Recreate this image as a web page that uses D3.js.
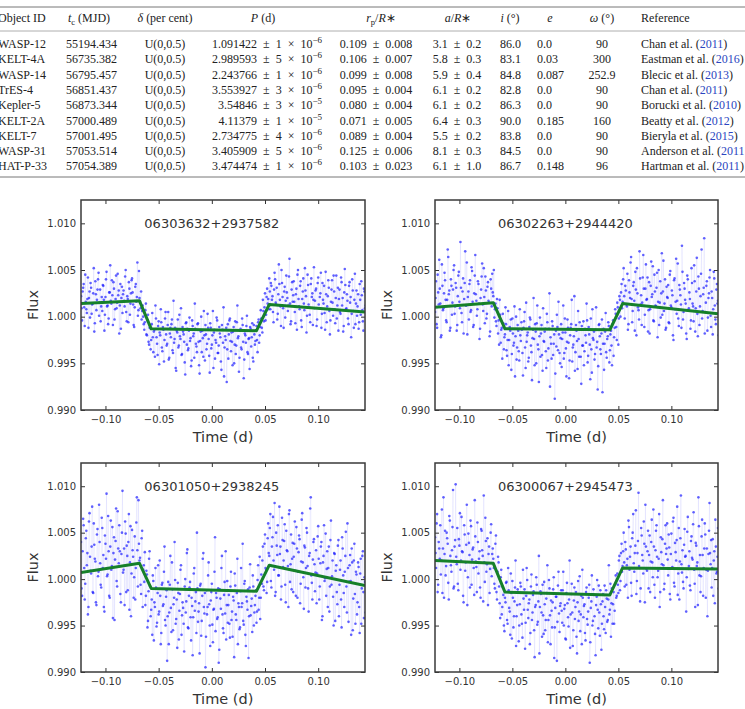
<!DOCTYPE html>
<html>
<head>
<meta charset="utf-8">
<script src="https://cdn.jsdelivr.net/npm/d3@7"></script>
<style>
  body { margin: 0; background: #fff; }
  svg { display: block; }
  .tbl text { font-family: "Liberation Serif", serif; font-size: 12px; fill: #222; }
  .tick text { font-family: "DejaVu Sans", sans-serif; font-size: 10px; fill: #333; }
  .tick line { stroke: #333; }
</style>
</head>
<body>
<div id="viz"></div>
<script>
// ---- table data ----
var objectIds = ["WASP-12", "KELT-4A", "WASP-14", "TrES-4", "Kepler-5", "KELT-2A", "KELT-7", "WASP-31", "HAT-P-33"];
var tcValues = ["55194.434", "56735.382", "56795.457", "56851.437", "56873.344", "57000.489", "57001.495", "57053.514", "57054.389"];
var deltaValues = ["U(0,0.5)", "U(0,0.5)", "U(0,0.5)", "U(0,0.5)", "U(0,0.5)", "U(0,0.5)", "U(0,0.5)", "U(0,0.5)", "U(0,0.5)"];
var periodValues = ["1.091422", "2.989593", "2.243766", "3.553927", "3.54846", "4.11379", "2.734775", "3.405909", "3.474474"];
var periodErrs = ["1", "5", "1", "3", "3", "1", "4", "5", "1"];
var periodExps = ["−6", "−6", "−6", "−6", "−5", "−5", "−6", "−6", "−6"];
var rpValues = ["0.109", "0.106", "0.099", "0.095", "0.080", "0.071", "0.089", "0.125", "0.103"];
var rpErrs = ["0.008", "0.007", "0.008", "0.004", "0.004", "0.005", "0.004", "0.006", "0.023"];
var aValues = ["3.1", "5.8", "5.9", "6.1", "6.1", "6.4", "5.5", "8.1", "6.1"];
var aErrs = ["0.2", "0.3", "0.4", "0.2", "0.2", "0.3", "0.2", "0.3", "1.0"];
var incValues = ["86.0", "83.1", "84.8", "82.8", "86.3", "90.0", "83.8", "84.5", "86.7"];
var eccValues = ["0.0", "0.03", "0.087", "0.0", "0.0", "0.185", "0.0", "0.0", "0.148"];
var omegaValues = ["90", "300", "252.9", "90", "90", "160", "90", "90", "96"];
var refAuthors = ["Chan et al. (", "Eastman et al. (", "Blecic et al. (", "Chan et al. (", "Borucki et al. (", "Beatty et al. (", "Bieryla et al. (", "Anderson et al. (", "Hartman et al. ("];
var refYears = ["2011", "2016", "2013", "2011", "2010", "2012", "2015", "2011", "2011"];
var refClose = [")", ")", ")", ")", ")", ")", ")", "", ")"];

// ---- light curve data ----
var lcTitles = ["06303632+2937582", "06302263+2944420", "06301050+2938245", "06300067+2945473"];
var timeStart = -0.123, cadence = 0.001;   // "a" points start at timeStart, "b" points half a cadence later
var fluxUnit = 1e-4;                       // flux values below are (flux - 1) / 1e-4
var timeTicks = [-0.10, -0.05, 0.00, 0.05, 0.10];
var fluxTicks = [0.990, 0.995, 1.000, 1.005, 1.010];

var flux1a = [
  22,-4,31,10,45,8,19,-12,27,36,3,14,52,-7,24,18,40,1,29,11,
  6,33,-15,21,48,12,-2,26,17,39,-9,30,8,44,15,23,-18,35,20,4,
  28,11,50,-5,19,37,2,25,41,13,-11,32,16,58,7,20,9,-3,12,-8,
  -6,14,-20,2,-30,-9,-25,4,-38,-14,12,-22,-41,-5,-17,8,-33,-11,-48,-2,
  -19,-29,5,-44,-12,-8,-36,17,-24,-55,-15,-3,-31,-21,9,-40,-16,-27,-62,-6,
  -13,-34,-1,-23,-47,-10,-18,14,-29,-38,-7,-52,-26,0,-15,-43,-20,-9,-35,3,
  -24,-60,-12,-30,6,-17,-45,-28,-4,-39,-11,-22,-57,-14,10,-33,-25,-70,-8,-19,
  -2,-37,-27,-16,-50,-5,-31,12,-21,-44,-13,-35,-9,-66,-18,-28,1,-40,-23,-11,
  -32,-7,-48,-19,-26,-10,-38,-3,-20,7,-12,18,-5,25,2,30,19,41,8,33,
  22,-6,47,15,31,3,56,18,-10,36,9,27,-1,44,20,12,62,-8,29,16,
  38,5,24,-14,50,11,33,-4,19,41,7,28,-17,45,13,2,35,21,-9,53,
  17,30,-3,42,9,25,-12,36,14,4,48,-6,22,31,-19,16,39,1,27,-7,
  44,12,-15,29,3,37,20,-10,51,8,24,-2,33,15,-22,40,6,18,-8,28,
  11,-13,35,2,23,-5,30,9
];
var flux1b = [
  9,27,35,-10,16,4,42,20,-1,31,13,25,-16,38,7,29,47,15,-5,21,
  34,18,2,40,11,-8,26,55,14,23,37,-3,19,9,46,28,12,-13,32,24,
  17,43,5,22,-6,30,14,39,26,-9,10,35,21,1,49,16,27,6,0,-14,
  7,-19,-4,-27,-12,-35,-8,-22,-16,-43,-2,-29,-10,-51,-20,-6,-37,-14,-25,5,
  -31,-9,-46,-18,-22,-3,-39,-28,-12,-58,-17,-33,2,-24,-41,-11,-19,-49,-7,-30,
  -36,-15,-26,-53,-4,-21,-44,-13,-32,-8,-27,-61,-16,-38,-23,6,-47,-19,-29,-12,
  -42,-7,-34,-20,-55,-14,-25,-1,-39,-31,-18,-48,-9,-28,-64,-21,-12,-35,-45,-4,
  -26,-17,-52,-11,-30,-40,-6,-23,-59,-15,-33,-2,-27,-46,-20,-10,-38,-24,-56,-13,
  -22,-44,-9,-30,-15,-25,-6,-28,-11,-2,-17,6,10,-4,21,14,8,27,36,18,
  5,29,40,13,-3,24,35,11,50,21,-12,32,17,26,6,43,14,-5,37,23,
  16,-7,30,45,19,8,38,-11,27,14,52,22,1,34,10,-6,41,25,18,9,
  28,-10,36,13,21,47,3,18,33,-14,24,11,39,6,-4,29,15,44,8,20,
  -2,31,19,5,42,12,-16,26,34,9,17,-8,37,21,3,28,-12,46,14,1,
  24,-6,18,38,7,-15,27,12
];
var flux2a = [
  5,38,-12,26,61,14,-20,33,9,47,18,-6,72,24,-15,40,2,29,55,11,
  31,-9,44,16,80,4,27,-18,36,12,58,21,-3,39,7,49,-11,25,66,17,
  8,35,-24,20,43,13,52,-7,28,3,37,15,-16,30,46,22,-1,14,-10,9,
  -4,18,-28,-12,3,-35,-19,-8,-42,6,-25,-15,-57,-2,-31,11,-21,-46,-9,-37,
  8,-26,-14,-63,-5,-33,15,-20,-48,-11,-3,-38,-23,20,-52,-16,-7,-30,-70,-1,
  -18,-41,9,-27,-13,-55,-6,-34,25,-22,-45,-10,-29,-88,-15,2,-36,-19,-50,-8,
  -24,12,-39,-17,-64,-3,-28,-47,-12,18,-33,-21,-58,-9,-26,6,-43,-14,-72,-31,
  -5,-37,-20,14,-49,-11,-30,-2,-60,-23,-16,-40,10,-27,-53,-8,-35,-18,-81,-13,
  -29,4,-44,-21,-10,-36,-15,-52,-4,-22,8,-11,15,-30,22,0,35,16,52,-2,
  28,11,-14,39,20,64,-6,33,17,48,-20,25,7,70,13,-9,42,30,2,56,
  19,-16,37,8,59,24,-4,45,12,31,-22,50,15,-1,68,27,6,40,-12,21,
  34,-7,49,10,23,-25,41,16,3,57,-10,29,13,76,-3,36,18,-18,44,7,
  26,-13,52,14,-5,38,9,63,-21,30,11,46,-2,24,84,5,33,-15,20,42,
  1,27,-19,48,12,-8,35,17
];
var flux2b = [
  20,-8,45,13,30,-22,56,7,25,39,-4,18,64,28,-12,33,15,50,3,36,
  -15,22,48,9,31,-6,41,19,70,12,-19,27,35,5,53,16,-9,44,24,1,
  38,14,-13,29,57,6,21,43,-2,32,17,-21,40,11,26,50,8,-5,19,-18,
  -30,2,-14,-45,-7,-22,10,-36,-25,-52,-11,-3,-40,-18,-28,-64,0,-33,-15,-47,
  -20,-6,-39,-12,5,-55,-27,-17,-44,-1,-31,-68,-14,-24,-8,-50,12,-35,-21,-43,
  -9,-58,-26,-16,-37,3,-47,-13,-75,-29,-5,-41,-19,-61,-32,-11,16,-39,-23,-54,
  -17,-45,-2,-34,-27,-12,-66,-20,-8,-48,-30,22,-38,-15,-56,-24,-6,-43,-10,-31,
  -52,-13,-28,-4,-42,-19,-67,-35,8,-25,-46,-14,-33,-78,-9,-21,-40,-3,-29,-57,
  -16,-38,-24,-6,-49,-19,-31,-8,-42,-12,3,-25,10,-2,18,26,9,40,22,33,
  13,46,-8,26,58,19,6,37,-15,29,52,10,-3,41,23,15,66,-11,30,18,
  42,7,-18,33,21,54,-5,27,11,47,16,-9,38,25,2,60,14,-14,32,20,
  -6,45,12,28,-20,39,8,62,17,-2,34,23,-12,48,5,30,14,-24,40,9,
  19,-4,36,11,55,-16,27,3,43,-9,22,72,6,31,-18,15,38,-1,25,50,
  -11,20,8,41,-3,29,14,-20
];
var flux3a = [
  40,-18,65,12,-5,52,28,-30,71,9,35,-14,60,22,-25,48,3,80,17,-9,
  55,26,-35,38,92,5,30,-20,63,14,-42,45,21,76,-8,33,58,-16,27,95,
  10,-28,49,36,-12,70,18,-40,53,24,2,-22,61,31,85,20,-6,44,-30,15,
  29,-18,5,-45,22,-8,-33,-60,-2,-25,12,-51,-15,-38,20,-70,-6,-29,8,-44,
  -19,-88,-3,-36,25,-57,-11,-27,40,-48,-22,-4,-65,-16,15,-39,-31,-78,0,-24,
  32,-53,-9,-41,-20,-82,6,-34,-14,50,-46,-26,-7,-61,-18,28,-37,-95,-12,-30,
  18,-50,-23,-5,-68,-32,45,-15,-43,-10,-76,-21,12,-38,-58,-3,30,-28,-47,-17,
  -63,8,-35,-19,-84,-7,-44,22,-26,-54,-13,-30,38,-49,-2,-72,-24,-11,-40,16,
  -29,-57,-8,-36,-18,-47,-1,-33,24,-20,-5,35,-12,48,10,-3,60,25,70,-9,
  45,20,82,-14,36,58,4,27,-22,66,13,41,-6,52,30,-30,74,16,-11,39,
  24,62,-18,33,8,47,-26,19,71,2,36,-9,55,14,-35,28,88,-4,21,43,
  -13,31,6,57,-22,17,40,-40,25,-2,49,11,-30,35,-8,63,3,-19,28,-45,
  15,-27,42,-6,20,-52,33,-15,8,51,-36,12,-3,26,-60,18,-21,38,-48,5,
  -25,13,-58,22,-10,30,-42,-3
];
var flux3b = [
  -10,30,58,-22,44,15,-38,62,24,6,78,-15,37,19,-28,54,8,40,-6,66,
  12,-30,47,22,3,68,-18,35,10,56,28,-44,41,-2,73,17,30,-25,50,7,
  33,62,-14,25,40,-33,57,6,31,-20,46,12,88,-8,38,23,-16,52,10,-3,
  -28,9,-52,-13,30,-40,-22,4,-66,-30,-9,-47,15,-35,-18,-58,-4,-27,35,-50,
  -12,-40,-70,-6,-31,18,-55,-20,-1,-43,-74,-15,-34,10,-60,-25,-48,-8,-36,28,
  -52,-18,-3,-66,-29,-41,12,-24,-58,-10,-35,-80,-5,-45,22,-30,-15,-62,-38,4,
  -27,-72,-14,-49,-33,8,-56,-20,-41,-90,-11,-32,25,-53,-17,-37,-65,-2,-28,-48,
  -8,-44,-62,-23,6,-38,-15,-70,-30,-52,12,-26,-45,-5,-60,-19,-33,-85,-9,-39,
  -21,4,-50,-28,-12,-35,15,-20,-43,5,20,-8,38,12,-15,44,28,55,-2,35,
  67,10,-18,50,26,4,78,35,-8,42,20,59,-25,31,14,70,-3,48,22,-14,
  38,9,56,-20,29,43,-5,64,18,-32,34,12,50,-10,25,76,4,-22,40,16,
  7,-26,46,22,-8,35,-44,18,58,1,-18,30,12,-35,42,-6,20,-50,27,9,
  -14,36,-40,10,-22,45,4,-30,25,-8,60,-46,15,-2,33,-55,20,-16,8,-38,
  18,-30,6,-48,25,-14,2,-36
];
var flux4a = [
  45,12,70,-6,33,58,20,-15,88,27,4,50,38,-22,63,15,31,96,-8,42,
  24,55,-12,36,10,67,29,-25,48,18,80,2,39,-9,57,21,34,-17,46,13,
  61,6,30,-20,52,25,90,-3,41,16,-28,35,11,59,27,22,-5,38,-14,8,
  18,-26,2,-38,-9,-50,-20,-4,-44,12,-31,-60,-15,-2,-52,-24,20,-40,-11,-67,
  -27,-8,-48,10,-33,-75,-18,-1,-42,-22,-58,5,-36,-13,-84,-28,-6,-46,25,-30,
  -16,-62,-39,-3,-55,-21,15,-44,-10,-70,-34,-25,2,-52,-19,-88,-7,-37,-29,-12,
  -47,8,-32,-64,-15,-26,-51,20,-38,-5,-72,-23,-43,-14,-80,-2,-35,-56,-18,10,
  -41,-27,-66,-9,-49,-20,-90,-31,4,-45,-17,-59,-28,-1,-53,-36,-12,-76,-24,-40,
  -7,-58,-21,-44,15,-33,-62,-10,-27,-48,-5,-20,6,-15,25,-2,38,14,50,-8,
  32,15,-20,56,24,-4,44,70,8,36,-16,28,93,12,-10,47,20,62,-25,35,
  9,52,26,-14,40,18,75,-6,31,58,2,22,-30,45,16,85,-11,38,27,60,
  4,34,-22,49,13,66,-8,29,42,-17,55,19,90,7,-3,37,24,-35,51,11,
  30,-12,46,21,72,-5,39,14,-28,57,26,3,64,-18,33,48,10,-40,27,82,
  16,-9,43,20,-26,35,8,55
];
var flux4b = [
  28,60,-14,40,22,5,75,33,-20,52,14,44,-4,68,25,8,56,-10,35,102,
  16,-5,43,71,20,30,-18,58,9,37,-28,49,26,63,-6,32,12,85,19,-14,
  40,22,-9,54,31,-24,18,66,8,44,27,-15,50,3,33,12,-10,47,-22,24,
  -8,-42,10,-30,-17,-56,-25,-3,-48,-12,-35,6,-64,-20,-40,-9,-72,-28,-14,-50,
  -4,-38,-63,-21,-11,-47,12,-33,-26,-70,-8,-44,-17,-55,-30,2,-49,-24,-80,-13,
  -36,-6,-59,-27,-44,-15,-68,-1,-39,-23,-52,-11,-85,-31,-19,-46,8,-57,-26,-34,
  -12,-50,-28,-65,-4,-41,-22,-74,-16,-36,-55,-9,-30,-62,-25,-45,3,-38,-70,-20,
  -29,-58,-14,-43,-35,-6,-68,-24,-50,-11,-40,-82,-19,-33,-7,-61,-27,-48,-16,-54,
  -30,-12,-46,-22,-38,-5,-26,-48,-14,-34,4,-18,-6,20,-12,28,8,30,18,40,
  -6,22,63,10,35,-18,50,17,28,74,-2,41,14,-24,55,26,6,38,80,11,
  30,-10,47,19,64,2,35,-20,52,24,9,70,-14,29,43,15,-5,58,33,21,
  48,-16,27,12,62,-4,39,20,78,6,-22,44,16,31,-10,54,25,2,67,14,
  -7,41,23,59,10,-30,36,18,88,4,-14,46,26,12,60,-20,33,9,52,28,
  42,12,-18,30,64,6,24,-10
];

// transit model (green line) vertices
var modelTimes = [-0.123, -0.068, -0.057, 0.042, 0.054, 0.144];
var model1 = [1.0014, 1.0017, 0.9987, 0.9985, 1.0013, 1.0005];
var model2 = [1.0010, 1.0015, 0.9987, 0.9986, 1.0014, 1.0003];
var model3 = [1.0007, 1.0017, 0.9990, 0.9987, 1.0015, 0.9993];
var model4 = [1.0020, 1.0017, 0.9986, 0.9983, 1.0012, 1.0011];

var width = 745,
    height = 709;

var svg = d3.select("#viz").append("svg")
    .attr("width", width)
    .attr("height", height);

// ---------------- table ----------------
var tbl = svg.append("g").attr("class", "tbl");
var rowY = function(i) { return 48 + i * 15.3; };
var sp = "\u2002";   // wide space round ± and ×

tbl.append("line").attr("x1", 0).attr("x2", width).attr("y1", 7).attr("y2", 7)
    .attr("stroke", "#777").attr("stroke-width", 1);
tbl.append("line").attr("x1", 0).attr("x2", width).attr("y1", 31).attr("y2", 31)
    .attr("stroke", "#999").attr("stroke-width", 0.8);
tbl.append("line").attr("x1", 0).attr("x2", width).attr("y1", 177).attr("y2", 177)
    .attr("stroke", "#777").attr("stroke-width", 1);

// header
var hy = 22;
function header(x, anchor, parts) {
  var t = tbl.append("text").attr("x", x).attr("y", hy).attr("text-anchor", anchor);
  parts.forEach(function(p) {
    var s = t.append("tspan").text(p[0]);
    if (p[1] === "i") s.style("font-style", "italic");
    if (p[1] === "sub") s.attr("font-size", 8.5).attr("dy", 3);
    if (p[1] === "back") s.attr("dy", -3);
  });
}
header(-2, "start", [["Object ID"]]);
header(89, "middle", [["t", "i"], ["c", "sub"], [" (MJD)", "back"]]);
header(165, "middle", [["δ", "i"], [" (per cent)"]]);
header(263, "middle", [["P", "i"], [" (d)"]]);
header(381, "middle", [["r", "i"], ["p", "sub"], ["/", "back"], ["R", "i"], ["∗"]]);
header(458, "middle", [["a", "i"], ["/"], ["R", "i"], ["∗"]]);
header(510, "middle", [["i", "i"], [" (°)"]]);
header(550, "middle", [["e", "i"]]);
header(602, "middle", [["ω", "i"], [" (°)"]]);
header(641, "start", [["Reference"]]);

function column(values, x, anchor) {
  tbl.selectAll(null)
    .data(values)
    .enter().append("text")
      .attr("x", x)
      .attr("y", function(d, i) { return rowY(i); })
      .attr("text-anchor", anchor)
      .text(function(d) { return d; });
}
column(objectIds, -2, "start");
column(tcValues, 91.5, "middle");
column(deltaValues, 165, "middle");
column(rpValues.map(function(d, i) { return d + sp + "±" + sp + rpErrs[i]; }), 376, "middle");
column(aValues.map(function(d, i) { return d + sp + "±" + sp + aErrs[i]; }), 457, "middle");
column(incValues, 500, "start");
column(eccValues, 537, "start");
column(omegaValues, 602, "middle");

var pText = tbl.selectAll(null)
    .data(periodValues)
  .enter().append("text")
    .attr("x", 322)
    .attr("y", function(d, i) { return rowY(i); })
    .attr("text-anchor", "end");
pText.append("tspan").text(function(d, i) { return d + sp + "±" + sp + periodErrs[i] + sp + "×" + sp + "10"; });
pText.append("tspan").attr("dy", -5).attr("font-size", 9)
    .text(function(d, i) { return periodExps[i]; });

var refText = tbl.selectAll(null)
    .data(refAuthors)
  .enter().append("text")
    .attr("x", 641)
    .attr("y", function(d, i) { return rowY(i); });
refText.append("tspan").text(function(d) { return d; });
refText.append("tspan").style("fill", "#2b45c0").text(function(d, i) { return refYears[i]; });
refText.append("tspan").text(function(d, i) { return refClose[i]; });

// ---------------- light curve panels ----------------
var panels = [
  { x0: 81,  x1: 365, y0: 200, y1: 410, a: flux1a, b: flux1b, model: model1, title: lcTitles[0] },
  { x0: 435, x1: 718, y0: 200, y1: 410, a: flux2a, b: flux2b, model: model2, title: lcTitles[1] },
  { x0: 81,  x1: 365, y0: 463, y1: 672, a: flux3a, b: flux3b, model: model3, title: lcTitles[2] },
  { x0: 435, x1: 718, y0: 463, y1: 672, a: flux4a, b: flux4b, model: model4, title: lcTitles[3] }
];

panels.forEach(function(p, k) {
  var x = d3.scaleLinear().domain([-0.123, 0.144]).range([p.x0, p.x1]);
  var y = d3.scaleLinear().domain([0.990, 1.0125]).range([p.y1, p.y0]);

  var pts = [];
  p.a.forEach(function(v, i) {
    pts.push({ t: timeStart + i * cadence, f: 1 + v * fluxUnit });
    if (i < p.b.length) pts.push({ t: timeStart + (i + 0.5) * cadence, f: 1 + p.b[i] * fluxUnit });
  });

  var g = svg.append("g");
  var clipId = "clip" + k;
  g.append("clipPath").attr("id", clipId)
    .append("rect")
      .attr("x", p.x0).attr("y", p.y0)
      .attr("width", p.x1 - p.x0).attr("height", p.y1 - p.y0);

  var plot = g.append("g").attr("clip-path", "url(#" + clipId + ")");

  var line = d3.line()
      .x(function(d) { return x(d.t); })
      .y(function(d) { return y(d.f); });

  plot.append("path")
      .datum(pts)
      .attr("d", line)
      .attr("fill", "none")
      .attr("stroke", "#0000ff")
      .attr("stroke-opacity", 0.1)
      .attr("stroke-width", 0.6);

  plot.selectAll("circle")
      .data(pts)
    .enter().append("circle")
      .attr("cx", function(d) { return x(d.t); })
      .attr("cy", function(d) { return y(d.f); })
      .attr("r", 1.3)
      .attr("fill", "#2020ff")
      .attr("fill-opacity", 0.7);

  var modelPts = modelTimes.map(function(t, i) { return { t: t, f: p.model[i] }; });
  plot.append("path")
      .datum(modelPts)
      .attr("d", line)
      .attr("fill", "none")
      .attr("stroke", "#16802a")
      .attr("stroke-width", 3)
      .attr("stroke-linejoin", "round");

  // axes: inward ticks on all four sides
  var fmtX = d3.format(".2f"), fmtY = d3.format(".3f");
  g.append("g").attr("transform", "translate(0," + p.y1 + ")")
      .call(d3.axisBottom(x).tickValues(timeTicks).tickFormat(fmtX).tickSize(-4).tickPadding(6));
  g.append("g").attr("transform", "translate(0," + p.y0 + ")")
      .call(d3.axisTop(x).tickValues(timeTicks).tickFormat("").tickSize(-4));
  g.append("g").attr("transform", "translate(" + p.x0 + ",0)")
      .call(d3.axisLeft(y).tickValues(fluxTicks).tickFormat(fmtY).tickSize(-4).tickPadding(5));
  g.append("g").attr("transform", "translate(" + p.x1 + ",0)")
      .call(d3.axisRight(y).tickValues(fluxTicks).tickFormat("").tickSize(-4));
  g.selectAll(".domain").remove();

  g.append("rect")
      .attr("x", p.x0).attr("y", p.y0)
      .attr("width", p.x1 - p.x0).attr("height", p.y1 - p.y0)
      .attr("fill", "none")
      .attr("stroke", "#3a3a3a")
      .attr("stroke-width", 1.5);

  g.append("text")
      .attr("x", x(0))
      .attr("y", y(1.010))
      .attr("dy", "0.35em")
      .attr("text-anchor", "middle")
      .style("font-family", "DejaVu Sans, sans-serif")
      .style("font-size", "13px")
      .style("fill", "#333")
      .text(p.title);

  g.append("text")
      .attr("transform", "translate(" + (p.x0 - 48) + "," + ((p.y0 + p.y1) / 2) + ") rotate(-90)")
      .attr("dy", "0.35em")
      .attr("text-anchor", "middle")
      .style("font-family", "DejaVu Sans, sans-serif")
      .style("font-size", "14.5px")
      .style("fill", "#333")
      .text("Flux");

  g.append("text")
      .attr("x", (p.x0 + p.x1) / 2)
      .attr("y", p.y1 + 32)
      .attr("text-anchor", "middle")
      .style("font-family", "DejaVu Sans, sans-serif")
      .style("font-size", "14.5px")
      .style("fill", "#333")
      .text("Time (d)");
});
</script>
</body>
</html>
